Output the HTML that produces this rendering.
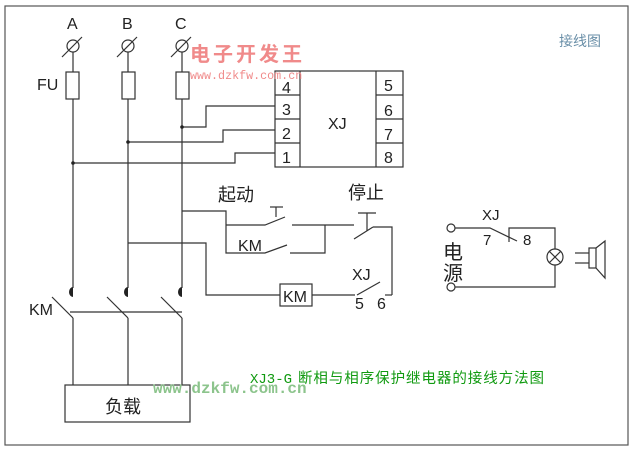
<!DOCTYPE html>
<html><head><meta charset="utf-8"><style>
body{margin:0;background:#fff;}
svg{display:block;}
text{font-family:"Liberation Sans","Noto Sans CJK SC",sans-serif;fill:#222;}
</style></head><body>
<svg width="640" height="454" viewBox="0 0 640 454" xmlns="http://www.w3.org/2000/svg">
<rect x="0" y="0" width="640" height="454" fill="#fff"/>
<rect x="5" y="6" width="623" height="439" fill="none" stroke="#555" stroke-width="1.2"/>
<g stroke="#333" stroke-width="1.2" fill="none">
<line x1="73" y1="52" x2="73" y2="288"/>
<line x1="128" y1="52" x2="128" y2="288"/>
<line x1="182" y1="52" x2="182" y2="288"/>
<circle cx="73" cy="46" r="6"/><circle cx="128" cy="46" r="6"/><circle cx="182" cy="46" r="6"/>
<line x1="62" y1="57" x2="82" y2="37"/><line x1="117" y1="57" x2="137" y2="37"/><line x1="171" y1="57" x2="191" y2="37"/>
<rect x="66" y="72" width="13" height="27" fill="#fff"/>
<rect x="122" y="72" width="13" height="27" fill="#fff"/>
<rect x="176" y="72" width="13" height="27" fill="#fff"/>
<rect x="275" y="71" width="128" height="96"/>
<line x1="300" y1="71" x2="300" y2="167"/><line x1="376" y1="71" x2="376" y2="167"/>
<line x1="275" y1="95" x2="300" y2="95"/><line x1="275" y1="119" x2="300" y2="119"/><line x1="275" y1="143" x2="300" y2="143"/>
<line x1="376" y1="95" x2="403" y2="95"/><line x1="376" y1="119" x2="403" y2="119"/><line x1="376" y1="143" x2="403" y2="143"/>
<polyline points="182,127 206,127 206,106 275,106"/>
<polyline points="128,142 223,142 223,130 275,130"/>
<polyline points="73,163 235,163 235,153 275,153"/>
<polyline points="182,211 226,211 226,253 265,253 287,245"/>
<polyline points="226,225 265,225 285,217"/>
<line x1="276" y1="217" x2="276" y2="207"/><line x1="270" y1="207" x2="283" y2="207"/>
<line x1="292" y1="225" x2="354" y2="225"/>
<polyline points="290,253 325,253 325,225"/>
<line x1="354" y1="239" x2="373" y2="227"/>
<line x1="367" y1="231" x2="367" y2="213"/><line x1="358" y1="213" x2="376" y2="213"/>
<polyline points="373,227 392,227 392,295"/>
<polyline points="128,243 206,243 206,295 280,295"/>
<rect x="280" y="284" width="32" height="22"/>
<line x1="312" y1="295" x2="355" y2="295"/>
<line x1="357" y1="295" x2="380" y2="282"/>
<line x1="385" y1="295" x2="392" y2="295"/>
<line x1="52" y1="297" x2="73" y2="318"/><line x1="107" y1="297" x2="128" y2="318"/><line x1="161" y1="297" x2="182" y2="318"/>
<line x1="70" y1="312" x2="182" y2="312"/>
<line x1="73" y1="318" x2="73" y2="385"/><line x1="128" y1="318" x2="128" y2="385"/><line x1="182" y1="318" x2="182" y2="385"/>
<rect x="65" y="385" width="125" height="37"/>
<circle cx="451" cy="228" r="4"/><circle cx="451" cy="287" r="4"/>
<polyline points="455,228 490,228 517,241"/>
<polyline points="509,242 509,228 555,228 555,249"/>
<polyline points="555,265 555,287 455,287"/>
<circle cx="555" cy="257" r="8"/>
<line x1="549" y1="251" x2="561" y2="263"/><line x1="561" y1="251" x2="549" y2="263"/>
<line x1="575" y1="253" x2="589" y2="253"/><line x1="575" y1="263" x2="589" y2="263"/>
<rect x="589" y="248" width="7" height="20"/>
<polyline points="596,248 605,241 605,278 596,268"/>
</g>
<g fill="#222">
<path d="M73,287 a4,5 0 0 0 0,10 z"/><path d="M128,287 a4,5 0 0 0 0,10 z"/><path d="M182,287 a4,5 0 0 0 0,10 z"/>
<circle cx="182" cy="127" r="1.8"/><circle cx="128" cy="142" r="1.8"/><circle cx="73" cy="163" r="1.8"/>
</g>
<g font-size="16">
<text x="67" y="29">A</text><text x="122" y="29">B</text><text x="175" y="29">C</text>
<text x="37" y="90">FU</text>
<text x="282" y="93">4</text><text x="282" y="115">3</text><text x="282" y="139">2</text><text x="282" y="163">1</text>
<text x="384" y="91">5</text><text x="384" y="116">6</text><text x="384" y="140">7</text><text x="384" y="163">8</text>
<text x="328" y="129">XJ</text>
<text x="218" y="201" font-size="18">起动</text>
<text x="348" y="199" font-size="18">停止</text>
<text x="238" y="251">KM</text>
<text x="283" y="302">KM</text>
<text x="352" y="280">XJ</text>
<text x="355" y="309">5</text><text x="377" y="309">6</text>
<text x="29" y="315">KM</text>
<text x="105" y="413" font-size="18">负载</text>
<text x="482" y="220" font-size="15">XJ</text>
<text x="483" y="245" font-size="15">7</text><text x="523" y="245" font-size="15">8</text>
<text x="443" y="259" font-size="20">电</text><text x="443" y="280" font-size="20">源</text>
</g>
<text x="559" y="46" font-size="14" style="fill:#6a8fa8">接线图</text>
<text x="190" y="61" font-size="20" font-weight="bold" style="fill:#f08a8a;letter-spacing:3px">电子开发王</text>
<text x="190" y="79" font-size="11.7" style="fill:#f08a8a;font-family:'Liberation Mono',monospace">www.dzkfw.com.cn</text>
<text x="250" y="383" font-size="14" style="fill:#109a10;font-family:'Liberation Mono',monospace">XJ3-G</text>
<text x="298" y="383" font-size="14.5" textLength="246" lengthAdjust="spacing" style="fill:#109a10">断相与相序保护继电器的接线方法图</text>
<text x="153" y="393" font-size="16" font-weight="bold" style="fill:#8cc48c;font-family:'Liberation Mono',monospace">www.dzkfw.com.cn</text>
</svg>
</body></html>
